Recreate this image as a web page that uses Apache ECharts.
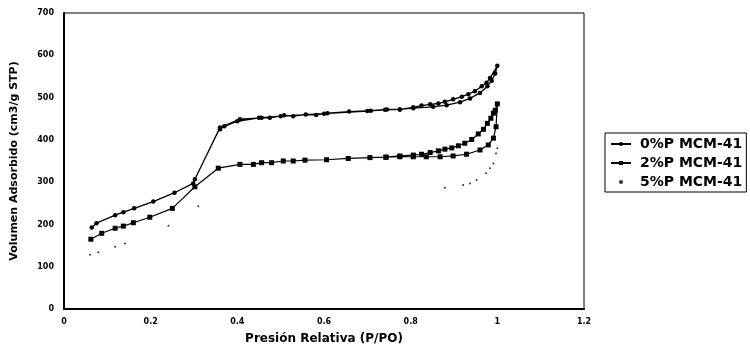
<!DOCTYPE html>
<html>
<head>
<meta charset="utf-8">
<script src="https://cdn.jsdelivr.net/npm/echarts@6/dist/echarts.min.js"></script>
<style>
html,body{margin:0;padding:0;background:#fff;}
#c{width:750px;height:350px;}
</style>
</head>
<body>
<div id="c"></div>
<script>
// Series names
var seriesNames = ['0%P MCM-41', '2%P MCM-41', '5%P MCM-41'];

// 0%P MCM-41 (adsorption then desorption, in drawing order)
var p0x = [0.064,0.075,0.118,0.137,0.162,0.206,0.255,0.298,0.302,0.36,0.406,0.456,0.475,0.508,0.529,0.558,0.582,0.608,0.658,0.708,0.745,0.775,0.806,0.852,0.883,0.914,0.937,0.96,0.977,0.987,0.995,1.0,
           0.983,0.975,0.964,0.948,0.933,0.918,0.898,0.879,0.864,0.845,0.825,0.806,0.775,0.741,0.7,0.6,0.5,0.45,0.4,0.37,0.36];
var p0y = [193,203,222,229,238,254,275,297,307,429,449,452,452,458,456,460,459,463,467,469,472,472,475,478,482,489,498,511,527,540,557,575,
           546,535,527,515,508,502,496,490,486,484,481,477,472,471,468,462,456,452,444,432,425];

// 2%P MCM-41
var p2x = [0.062,0.087,0.118,0.137,0.16,0.198,0.25,0.302,0.356,0.406,0.437,0.456,0.479,0.506,0.529,0.556,0.606,0.656,0.706,0.743,0.775,0.806,0.836,0.868,0.898,0.929,0.96,0.979,0.991,0.997,1.0,
           0.995,0.991,0.985,0.977,0.968,0.956,0.941,0.925,0.91,0.895,0.879,0.864,0.845,0.825,0.806,0.775,0.743];
var p2y = [165,179,191,196,204,217,238,289,333,342,342,346,346,350,350,352,353,356,358,359,360,360,360,360,362,366,376,388,404,431,485,
           470,463,451,439,425,414,401,392,386,381,378,374,370,366,364,362,359];

// 5%P MCM-41 (visible points only)
var p5x = [0.06,0.079,0.118,0.141,0.241,0.31,0.879,0.921,0.937,0.952,0.974,0.983,0.991,0.997,1.0];
var p5y = [128,134,147,155,197,243,287,293,297,305,321,333,344,368,380];

// Axis ticks
var xTicks = [0, 0.2, 0.4, 0.6, 0.8, 1, 1.2];
var yTicks = [0, 100, 200, 300, 400, 500, 600, 700];

function pairs(xs, ys){ return xs.map(function(x,i){ return [x, ys[i]]; }); }

var FONT = '"DejaVu Sans", sans-serif';
var chart = echarts.init(document.getElementById('c'), null, {renderer:'canvas'});
chart.setOption({
  animation:false,
  backgroundColor:'#fff',
  grid:{left:64, right:166, top:13, bottom:41, show:true, borderColor:'#000', borderWidth:1, backgroundColor:'transparent'},
  xAxis:{
    type:'value', min:xTicks[0], max:xTicks[xTicks.length-1], interval:0.2,
    name:'Presión Relativa (P/PO)', nameLocation:'middle', nameGap:24,
    nameTextStyle:{fontFamily:FONT, fontWeight:'bold', fontSize:12, color:'#000'},
    axisLine:{show:true, onZero:false, lineStyle:{color:'#000', width:2}},
    axisTick:{show:false},
    splitLine:{show:false},
    axisLabel:{fontFamily:FONT, fontWeight:'bold', fontSize:8, color:'#000', margin:9,
      formatter:function(v){ return String(Math.round(v*10)/10); }}
  },
  yAxis:{
    type:'value', min:yTicks[0], max:yTicks[yTicks.length-1], interval:100,
    name:'Volumen Adsorbido (cm3/g STP)', nameLocation:'middle', nameGap:44,
    nameTextStyle:{fontFamily:FONT, fontWeight:'bold', fontSize:11, color:'#000'},
    axisLine:{show:true, lineStyle:{color:'#000', width:2}},
    axisTick:{show:false},
    splitLine:{show:false},
    axisLabel:{fontFamily:FONT, fontWeight:'bold', fontSize:8, color:'#000', margin:10}
  },
  legend:{
    left:605, top:133, orient:'vertical', itemGap:5, itemWidth:20, itemHeight:5,
    padding:[4,4,3,5], borderColor:'#000', borderWidth:1, borderRadius:0,
    textStyle:{fontFamily:FONT, fontWeight:'bold', fontSize:14, color:'#000', padding:[0,0,0,4]},
    data:seriesNames
  },
  series:[
    {name:seriesNames[0], type:'line', data:pairs(p0x,p0y), symbol:'circle', symbolSize:4.5, showAllSymbol:true,
     lineStyle:{color:'#000', width:1.3}, itemStyle:{color:'#000'}},
    {name:seriesNames[1], type:'line', data:pairs(p2x,p2y), symbol:'rect', symbolSize:5, showAllSymbol:true,
     lineStyle:{color:'#000', width:1.2}, itemStyle:{color:'#000'}},
    {name:seriesNames[2], type:'line', data:pairs(p5x,p5y), symbol:'circle', symbolSize:2, showAllSymbol:true,
     lineStyle:{color:'#000', width:0, opacity:0}, itemStyle:{color:'#333'}}
  ]
});
</script>
</body>
</html>
